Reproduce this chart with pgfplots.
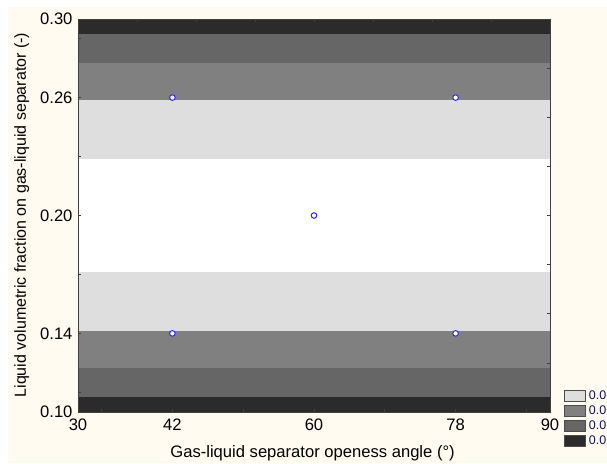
\documentclass[border=0pt]{standalone}
\usepackage{pgfplots}
\pgfplotsset{compat=1.18}
\usepackage{fontspec}
\setmainfont{Liberation Sans}
\definecolor{cream}{RGB}{255,251,240}
\definecolor{cdarkest}{RGB}{43,43,43}
\definecolor{cdark}{RGB}{102,102,102}
\definecolor{cmid}{RGB}{128,128,128}
\definecolor{clight}{RGB}{222,222,222}
\definecolor{mkblue}{RGB}{40,40,255}
\definecolor{navy}{RGB}{20,20,90}
\begin{document}
\begin{tikzpicture}
\fill[white] (-78pt,-51pt) rectangle (529pt,412pt);
\fill[cream] (-70pt,-51pt) rectangle (529pt,405pt);
\begin{axis}[
  scale only axis, width=472pt, height=393pt,
  xmin=30, xmax=90, ymin=0.10, ymax=0.30,
  axis on top,
  axis line style={draw=black!75, line width=0.8pt},
  tick align=inside, major tick length=3pt, minor tick length=3pt,
  every tick/.style={black!75, line width=0.6pt},
  xtick pos=left, ytick pos=left,
  xtick={30,42,60,78,90}, minor xtick={33,51,69,87},
  xticklabels={30,42,60,78,90},
  ytick={0.10,0.14,0.20,0.26,0.30}, minor ytick={0.11,0.17,0.23,0.29},
  yticklabels={0.10,0.14,0.20,0.26,0.30},
  ticklabel style={font=\fontsize{16.6}{19}\selectfont},
  xticklabel style={yshift=-3pt},
  yticklabel style={xshift=-2pt},
  label style={font=\fontsize{16.6}{19}\selectfont},
  xlabel={Gas-liquid separator openess angle (°)},
  ylabel={Liquid volumetric fraction on gas-liquid separator (-)},
  xlabel style={at={(axis description cs:0.497,-0.104)}, anchor=center},
  ylabel style={at={(axis description cs:-0.119,0.501)}, anchor=center, font=\fontsize{16}{19}\selectfont},
  reverse legend,
  legend style={draw=none, fill=none, at={(axis description cs:1.03,0.056)}, anchor=north west,
    font=\fontsize{12.5}{12.5}\selectfont, text=navy, inner sep=0pt, row sep=3pt,
    nodes={inner sep=0pt, text height=9pt, text depth=3pt}},
  legend cell align=left,
  legend image code/.code={\draw[#1, draw=black!70, line width=0.6pt] (0pt,-5.5pt) rectangle (21pt,5.5pt);},
  legend entries={\hspace{3pt}0.0,\hspace{3pt}0.0,\hspace{3pt}0.0,\hspace{3pt}0.0},
]
\addplot[fill=cdarkest, draw=none] coordinates {(30,0.10) (90,0.10) (90,0.30) (30,0.30)} -- cycle;
\addplot[fill=cdark, draw=none] coordinates {(30,0.1078) (90,0.1078) (90,0.2922) (30,0.2922)} -- cycle;
\addplot[fill=cmid, draw=none] coordinates {(30,0.1226) (90,0.1226) (90,0.2774) (30,0.2774)} -- cycle;
\addplot[fill=clight, draw=none] coordinates {(30,0.1414) (90,0.1414) (90,0.2586) (30,0.2586)} -- cycle;
\addplot[fill=white, draw=none, forget plot] coordinates {(30,0.1712) (90,0.1712) (90,0.2288) (30,0.2288)} -- cycle;
\addplot[only marks, mark=*, mark size=2.8pt, mark options={fill=white, draw=mkblue, line width=1pt}, forget plot]
  coordinates {(42,0.14) (42,0.26) (78,0.14) (78,0.26) (60,0.20)};
\end{axis}
\begin{axis}[
  scale only axis, width=472pt, height=393pt,
  xmin=30, xmax=90, ymin=0.10, ymax=0.30,
  axis line style={draw=black!75, line width=0.8pt},
  tick align=inside, major tick length=3pt,
  every tick/.style={black!75, line width=0.6pt},
  xtick pos=right, ytick pos=right,
  xtick={37.5,45,52.5,60,67.5,75,82.5}, xticklabels={},
  ytick={0.125,0.15,0.175,0.2,0.225,0.25,0.275}, yticklabels={},
]
\addplot[draw=none, forget plot] coordinates {(30,0.1)};
\end{axis}
\pgfresetboundingbox
\useasboundingbox (-78pt,-51pt) rectangle (529pt,412pt);
\end{tikzpicture}
\end{document}
